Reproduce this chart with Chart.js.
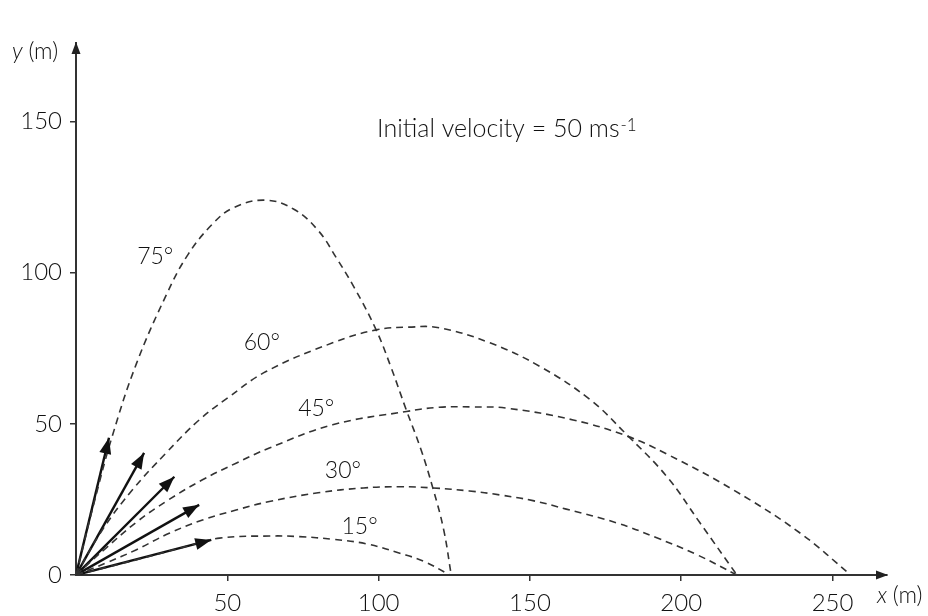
<!DOCTYPE html>
<html>
<head>
<meta charset="utf-8">
<script src="https://cdn.jsdelivr.net/npm/chart.js@4.4.0/dist/chart.umd.min.js"></script>
<style>
  html, body { margin: 0; padding: 0; background: #fff; }
  #wrap { width: 928px; height: 616px; }
</style>
</head>
<body>
<div id="wrap"><canvas id="myChart1" width="928" height="616"></canvas></div>
<script>
//------------------ data ------------------//
// launch angles (labels)
const angleLabels = ['75°', '60°', '45°', '30°', '15°']

// trajectories [x (m), y (m)]
const path75 = [[0,0],[6,24],[12,46],[20,70],[30,93],[37,106],[45,116],[52,121.5],[62.5,124],[72,121],
                [80,114],[86,105],[92,95],[99,81.5],[104,69],[109,55],[114,41.5],[118,28.5],[121.5,15],[124,0]]
const path60 = [[0,0],[8.7,14.9],[18.6,28.1],[29.7,40.3],[40.7,51.3],[50,58.5],[62.8,67.3],[84.8,76.8],
                [99.2,81.1],[110,82],[120,81.8],[136.8,76.8],[153.3,69],[169.9,58],[182,46.4],[195.3,32.5],
                [206.3,17.1],[218.4,0]]
const path45 = [[0,0],[10,9],[20,17.5],[30,24.5],[41.8,31.5],[52.9,37],[63.9,42],[84.8,49.7],[109.2,54.1],
                [120,55.5],[131,55.6],[142.3,55.2],[164.3,51.3],[182,46],[195.3,40],
                [217.3,28.1],[239.4,13.8],[256,0]]
const path30 = [[0,0],[10,4],[19.8,8.3],[30.8,13.8],[41.8,18.2],[52.9,21.5],[63.9,24.3],[80,27.2],[95,28.8],
                [107,29.2],[118,28.8],[130,27.8],[140,26.5],[151,24.6],[162,21.8],[178.8,17.2],[191.9,12.3],
                [205,6.8],[218.4,0]]
const path15 = [[0,0],[10,2.5],[19.8,5],[36.3,9.4],[47.4,12.2],[63.9,12.9],[73.8,12.7],[85,11.8],[96,10.3],
                [107,7.2],[115,4.5],[123.5,0]]
const paths = [path75, path60, path45, path30, path15]

// velocity arrows (tip of each arrow)
const arrowTipX = [10.9, 22.5, 32.5, 40.7, 44.7]
const arrowTipY = [45.4, 40.4, 32.5, 23.2, 11.6]

// axis ticks
const xTicks = [50, 100, 150, 200, 250]
const yTicks = [0, 50, 100, 150]
const X_MAX = 268
const Y_MAX = 176

//------------------ layout / style ------------------//
const FONT = 'Lato, "Noto Sans", sans-serif'
const TEXT_COLOR = '#111'
const LINE_COLOR = '#333'
// label anchor points in axis units
const angleLabelPos = [[26.2,105.3],[61.4,76.8],[79.4,55],[88.2,34.4],[93.7,15.9]]
const notePos = [99.5, 145]


function toPoints(path){
    return path.map(p => ({x: p[0], y: p[1]}))
}

// dashed trajectories
const datasets = []
for (let i = 0; i < paths.length; i++){
    datasets.push({
        label: angleLabels[i],
        data: toPoints(paths[i]),
        showLine: true,
        borderColor: LINE_COLOR,
        borderWidth: 1.6,
        borderDash: [7, 5],
        pointRadius: 0,
        tension: 0.4,
        fill: false
    })
}
// solid arrows
for (let i = 0; i < arrowTipX.length; i++){
    datasets.push({
        label: 'arrow ' + angleLabels[i],
        data: [{x: 0, y: 0}, {x: arrowTipX[i], y: arrowTipY[i]}],
        showLine: true,
        borderColor: '#111',
        borderWidth: 2.4,
        pointRadius: 0,
        isArrow: true
    })
}

/*--------------------------------------------------------------------
arrow heads, axis titles and labels
--------------------------------------------------------------------*/
function head(ctx, x, y, ang, len, half){
    ctx.save()
    ctx.translate(x, y)
    ctx.rotate(ang)
    ctx.beginPath()
    ctx.moveTo(0, 0)
    ctx.lineTo(-len, -half)
    ctx.lineTo(-len, half)
    ctx.closePath()
    ctx.fill()
    ctx.restore()
}

const decoPlugin = {
    id: 'deco',
    afterDatasetsDraw(chart){
        const ctx = chart.ctx
        const xs = chart.scales.x
        const ys = chart.scales.y
        const area = chart.chartArea
        const x0 = xs.getPixelForValue(0)
        const y0 = ys.getPixelForValue(0)

        ctx.save()
        ctx.fillStyle = '#222'
        // axis arrows
        head(ctx, area.right + 1, y0, 0, 12, 4.5)
        head(ctx, x0, area.top - 1, -Math.PI / 2, 12, 4.5)

        // velocity arrow heads
        ctx.fillStyle = '#111'
        chart.data.datasets.forEach((ds, i) => {
            if (!ds.isArrow) return
            const pts = chart.getDatasetMeta(i).data
            const a = pts[0], b = pts[1]
            const ang = Math.atan2(b.y - a.y, b.x - a.x)
            head(ctx, b.x, b.y, ang, 16, 6)
        })

        // angle labels
        ctx.fillStyle = TEXT_COLOR
        ctx.font = '300 23px ' + FONT
        ctx.textAlign = 'center'
        ctx.textBaseline = 'middle'
        angleLabels.forEach((t, i) => {
            ctx.fillText(t, xs.getPixelForValue(angleLabelPos[i][0]), ys.getPixelForValue(angleLabelPos[i][1]))
        })

        // note
        ctx.textAlign = 'left'
        ctx.textBaseline = 'alphabetic'
        ctx.font = '300 25px ' + FONT
        const nx = xs.getPixelForValue(notePos[0])
        const ny = ys.getPixelForValue(notePos[1])
        const main = 'Initial velocity = 50 ms'
        ctx.fillText(main, nx, ny)
        const w = ctx.measureText(main).width
        ctx.font = '300 17px ' + FONT
        ctx.fillText('-1', nx + w + 1, ny - 6)

        // axis titles
        ctx.font = 'italic 300 23px ' + FONT
        ctx.fillText('y', 12, 59)
        let wy = ctx.measureText('y ').width
        ctx.font = '300 23px ' + FONT
        ctx.fillText('(m)', 12 + wy, 59)

        ctx.font = 'italic 300 23px ' + FONT
        ctx.fillText('x', 877, 603)
        let wx = ctx.measureText('x ').width
        ctx.font = '300 23px ' + FONT
        ctx.fillText('(m)', 877 + wx, 603)
        ctx.restore()
    }
}

// チャート作成
const ctx = document.getElementById('myChart1')
window.myChart = new Chart(ctx, {
    type: 'scatter',
    data: { datasets: datasets },
    options: {
        responsive: false,
        animation: false,
        layout: { padding: { top: 43, right: 41, left: 0, bottom: 0 } },
        plugins: { legend: { display: false }, tooltip: { enabled: false } },
        scales: {
            x: {
                type: 'linear', min: 0, max: X_MAX,
                afterBuildTicks: s => { s.ticks = xTicks.map(v => ({value: v})) },
                afterFit: s => { s.height = 41 },
                ticks: { color: TEXT_COLOR, font: { family: FONT, size: 24, weight: 300 }, padding: 8, maxRotation: 0, autoSkip: false },
                grid: { drawOnChartArea: false, tickLength: 6, color: LINE_COLOR, lineWidth: 1.5 },
                border: { color: LINE_COLOR, width: 2 }
            },
            y: {
                type: 'linear', min: 0, max: Y_MAX,
                afterBuildTicks: s => { s.ticks = yTicks.map(v => ({value: v})) },
                afterFit: s => { s.width = 76 },
                ticks: { color: TEXT_COLOR, font: { family: FONT, size: 24, weight: 300 }, padding: 8, autoSkip: false },
                grid: { drawOnChartArea: false, tickLength: 6, color: LINE_COLOR, lineWidth: 1.5 },
                border: { color: LINE_COLOR, width: 2 }
            }
        }
    },
    plugins: [decoPlugin]
})
</script>
</body>
</html>
